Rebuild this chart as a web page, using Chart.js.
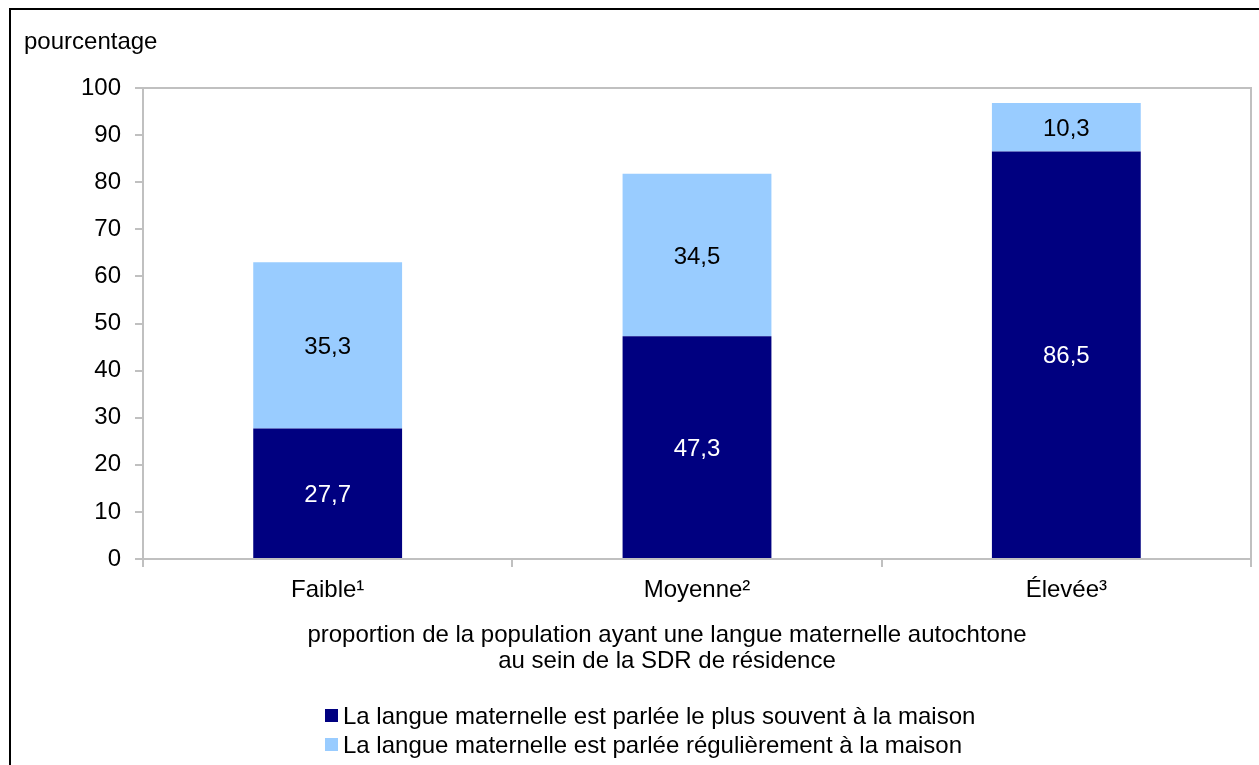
<!DOCTYPE html>
<html>
<head>
<meta charset="utf-8">
<script src="https://cdn.jsdelivr.net/npm/chart.js@4.4.1/dist/chart.umd.min.js"></script>
<style>
html,body{margin:0;padding:0;background:#fff;}
#wrap{position:absolute;left:0;top:0;width:1259px;height:765px;}
</style>
</head>
<body>
<div id="wrap"><canvas id="c" width="1259" height="765"></canvas></div>
<script>
const categories = ["Faible\u00B9", "Moyenne\u00B2", "\u00C9lev\u00E9e\u00B3"];
const plusSouvent = [27.7, 47.3, 86.5];
const regulierement = [35.3, 34.5, 10.3];
const seriesLabels = ["La langue maternelle est parl\u00E9e le plus souvent \u00E0 la maison",
                      "La langue maternelle est parl\u00E9e r\u00E9guli\u00E8rement \u00E0 la maison"];
const yTicks = [0, 10, 20, 30, 40, 50, 60, 70, 80, 90, 100];
const yTitle = "pourcentage";
const xTitle = ["proportion de la population ayant une langue maternelle autochtone",
                "au sein de la SDR de r\u00E9sidence"];

const FONT = "'Liberation Sans', Arial, sans-serif";
const FS = 24;
const fmt = v => v.toFixed(1).replace('.', ',');

const extras = {
  id: 'extras',
  beforeDraw(chart) {
    const ctx = chart.ctx;
    ctx.save();
    ctx.fillStyle = '#fff';
    ctx.fillRect(0, 0, chart.width, chart.height);
    ctx.restore();
  },
  afterDraw(chart) {
    const ctx = chart.ctx;
    const ca = chart.chartArea;
    ctx.save();
    // outer border
    ctx.strokeStyle = '#000';
    ctx.lineWidth = 2;
    ctx.strokeRect(10, 9, 1400, 900);
    // plot area border (top/right)
    ctx.strokeStyle = '#c0c0c0';
    ctx.lineWidth = 2;
    ctx.beginPath();
    ctx.moveTo(ca.left, ca.top);
    ctx.lineTo(ca.right, ca.top);
    ctx.lineTo(ca.right, ca.bottom + 8);
    ctx.stroke();
    // y title
    ctx.fillStyle = '#000';
    ctx.font = FS + 'px ' + FONT;
    ctx.textAlign = 'left';
    ctx.textBaseline = 'middle';
    ctx.fillText(yTitle, 24, 42);
    // x title
    ctx.textAlign = 'center';
    ctx.fillText(xTitle[0], 667, 635);
    ctx.fillText(xTitle[1], 667, 661);
    // legend
    ctx.textAlign = 'left';
    chart.data.datasets.forEach((ds, i) => {
      const y = 717 + i * 29;
      ctx.fillStyle = ds.backgroundColor;
      ctx.fillRect(325, y - 8, 13, 13);
      ctx.fillStyle = '#000';
      ctx.fillText(ds.label, 343, y);
    });
    // data labels
    ctx.textAlign = 'center';
    chart.data.datasets.forEach((ds, di) => {
      const meta = chart.getDatasetMeta(di);
      meta.data.forEach((bar, i) => {
        const v = ds.data[i];
        const yc = (bar.y + bar.base) / 2 + 2;
        ctx.fillStyle = di === 0 ? '#fff' : '#000';
        ctx.fillText(fmt(v), bar.x, yc);
      });
    });
    ctx.restore();
  }
};

new Chart(document.getElementById('c'), {
  type: 'bar',
  data: {
    labels: categories,
    datasets: [
      { label: seriesLabels[0], data: plusSouvent, backgroundColor: '#000080', borderWidth: 0 },
      { label: seriesLabels[1], data: regulierement, backgroundColor: '#99ccff', borderWidth: 0 }
    ]
  },
  options: {
    responsive: false,
    animation: false,
    events: [],
    layout: { padding: { left: 0, top: 88, right: 8, bottom: 0 } },
    plugins: { legend: { display: false }, tooltip: { enabled: false }, title: { display: false } },
    datasets: { bar: { categoryPercentage: 0.403, barPercentage: 1.0 } },
    scales: {
      x: {
        stacked: true,
        afterFit(s) { s.height = 765 - 559; },
        grid: { display: true, drawOnChartArea: false, drawTicks: true, tickLength: 8, color: '#c0c0c0', lineWidth: 2, offset: true },
        border: { display: true, color: '#c0c0c0', width: 2 },
        ticks: { color: '#000', font: { family: FONT, size: FS }, padding: 9, maxRotation: 0 }
      },
      y: {
        stacked: true,
        min: 0, max: 100,
        afterFit(s) { s.width = 143; },
        afterBuildTicks(s) { s.ticks = yTicks.map(v => ({ value: v })); },
        grid: { display: true, drawOnChartArea: false, drawTicks: true, tickLength: 8, color: '#c0c0c0', lineWidth: 2 },
        border: { display: true, color: '#c0c0c0', width: 2 },
        ticks: { color: '#000', font: { family: FONT, size: FS }, padding: 14, stepSize: 10 }
      }
    }
  },
  plugins: [extras]
});
</script>
</body>
</html>
